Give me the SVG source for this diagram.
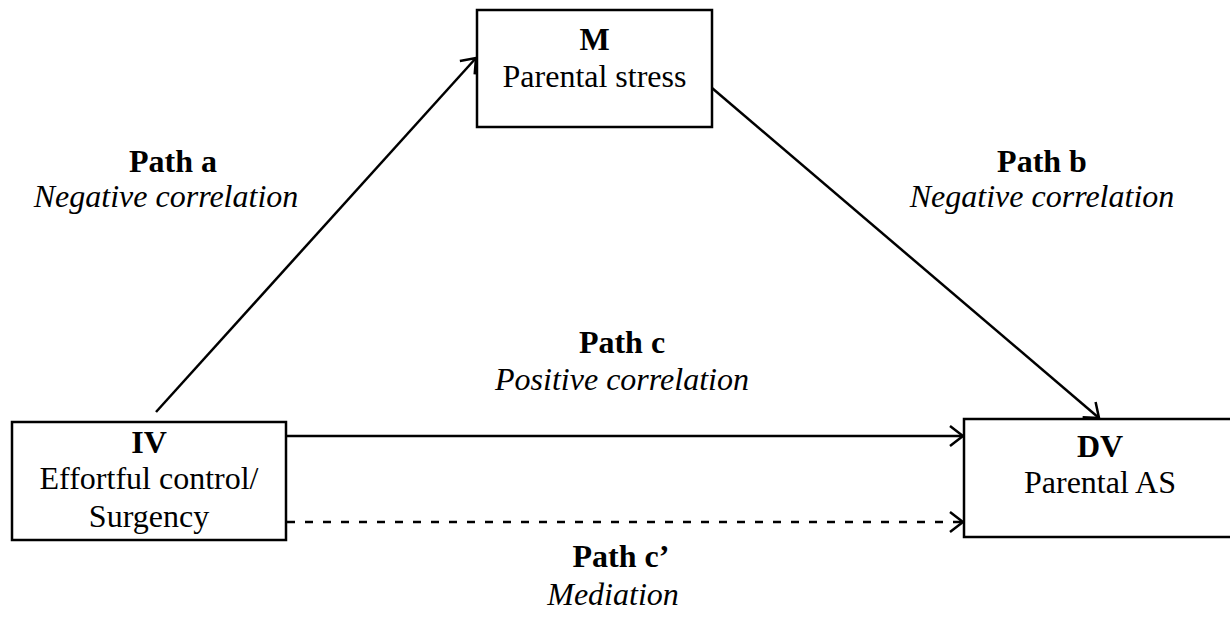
<svg xmlns="http://www.w3.org/2000/svg" width="1230" height="619" viewBox="0 0 1230 619">
<style>
.box{fill:#fff;stroke:#000;stroke-width:2.5}
.t{font-family:"Liberation Serif","Times New Roman",serif;font-size:32px;fill:#000;text-anchor:middle}
.b{font-weight:bold}
.i{font-style:italic}
.ln{stroke:#000;stroke-width:2.5;fill:none;marker-end:url(#ah)}
</style>
<defs>
<marker id="ah" viewBox="0 0 16 24" refX="14" refY="12" markerWidth="16" markerHeight="24" markerUnits="userSpaceOnUse" orient="auto">
<path d="M1,2 L14,12 L1,22" fill="none" stroke="#000" stroke-width="2.5"/>
</marker>
</defs>
<rect width="1230" height="619" fill="#fff"/>
<g id="connectors">
<line class="ln" x1="156" y1="412" x2="476" y2="58"/>
<line class="ln" x1="712" y1="88" x2="1099" y2="418"/>
<line class="ln" x1="287" y1="436" x2="963" y2="436"/>
<line class="ln" x1="287" y1="522" x2="963" y2="522" stroke-dasharray="8,10"/>
</g>
<g id="node-m">
<rect class="box" x="477" y="10" width="235" height="117"/>
<text class="t b" x="594.5" y="50">M</text>
<text class="t" x="594.5" y="87">Parental stress</text>
</g>
<g id="node-iv">
<rect class="box" x="12" y="422" width="274" height="118"/>
<text class="t b" x="149" y="453">IV</text>
<text class="t" x="149" y="489">Effortful control/</text>
<text class="t" x="149" y="527">Surgency</text>
</g>
<g id="node-dv">
<rect class="box" x="964" y="419" width="272" height="118"/>
<text class="t b" x="1100" y="457">DV</text>
<text class="t" x="1100" y="493">Parental AS</text>
</g>
<g id="labels">
<text class="t b" x="173" y="172">Path a</text>
<text class="t i" x="166" y="207">Negative correlation</text>
<text class="t b" x="1042" y="172">Path b</text>
<text class="t i" x="1042" y="207">Negative correlation</text>
<text class="t b" x="622" y="353">Path c</text>
<text class="t i" x="622" y="390">Positive correlation</text>
<text class="t b" x="621" y="567">Path c’</text>
<text class="t i" x="613" y="605">Mediation</text>
</g>
</svg>
